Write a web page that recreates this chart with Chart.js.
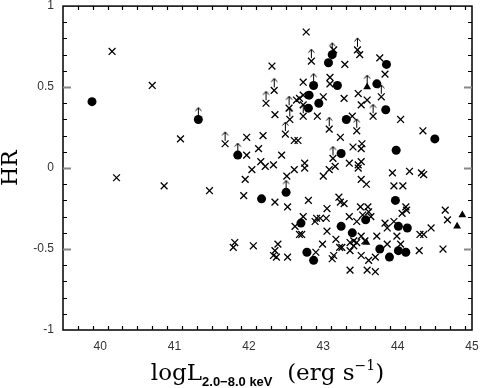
<!DOCTYPE html>
<html>
<head>
<meta charset="utf-8">
<script src="https://cdn.jsdelivr.net/npm/chart.js@4.4.1/dist/chart.umd.min.js"></script>
<style>
  html, body { margin: 0; padding: 0; background: #fff; }
  #grafica { display: block; }
</style>
</head>
<body>
<canvas id="grafica" width="480" height="388"></canvas>
<script>
// log L(2-8 keV) vs HR
var crossL = [40.16, 40.70, 41.08, 40.22, 40.86, 41.47, 42.77, 42.31, 43.14, 43.29, 43.49, 43.76, 43.83, 42.73, 43.09, 43.09, 43.00, 43.28, 43.47, 43.59,
  43.51, 42.64, 42.68, 42.73, 42.73, 42.35, 42.92, 43.39, 44.04, 44.34, 43.23, 42.61, 42.66, 43.52, 43.40, 41.97, 42.19, 42.13, 41.97, 42.44,
  42.16, 42.22, 42.33, 42.04, 41.95, 42.51, 42.61, 42.75, 42.75, 43.00, 43.08, 43.16, 43.35, 43.47, 43.51, 43.47, 43.51, 43.51, 43.58, 43.93,
  44.16, 44.35, 44.32, 43.95, 44.07, 41.93, 42.35, 42.52, 42.80, 43.21, 43.23, 43.28, 43.05, 43.50, 43.60, 43.61, 44.11, 44.12, 44.06, 44.64,
  44.67, 42.73, 42.62, 42.91, 42.96, 43.04, 42.89, 43.05, 42.68, 42.71, 43.45, 43.35, 43.53, 43.64, 43.83, 43.86, 43.95, 44.45, 44.30, 44.35,
  43.99, 43.17, 43.36, 43.41, 43.45, 43.41, 43.51, 43.56, 43.72, 43.22, 43.25, 42.99, 42.90, 43.14, 43.12, 43.36, 43.51, 43.61, 43.70, 43.86,
  44.04, 44.29, 44.61, 43.36, 43.59, 43.70, 42.39, 42.06, 42.35, 42.33, 42.37, 42.52, 41.81, 41.79];
var crossHR = [0.72, 0.51, 0.18, -0.06, -0.11, -0.14, 0.84, 0.63, 0.73, 0.64, 0.70, 0.68, 0.58, 0.53, 0.56, 0.52, 0.44, 0.43, 0.46, 0.42,
  0.39, 0.42, 0.43, 0.45, 0.39, 0.33, 0.32, 0.32, 0.30, 0.23, 0.19, 0.17, 0.17, 0.15, 0.13, 0.19, 0.20, 0.12, 0.08, 0.08,
  0.04, 0.01, 0.02, -0.01, -0.07, -0.05, -0.01, 0.03, 0.00, -0.05, -0.01, 0.01, 0.03, 0.02, 0.04, 0.00, 0.12, -0.07, -0.10, -0.03,
  -0.02, -0.04, -0.03, -0.11, -0.11, -0.17, -0.21, -0.24, -0.20, -0.18, -0.21, -0.22, -0.25, -0.24, -0.24, -0.27, -0.24, -0.26, -0.28, -0.26,
  -0.32, -0.30, -0.36, -0.31, -0.31, -0.31, -0.33, -0.39, -0.41, -0.41, -0.33, -0.30, -0.29, -0.30, -0.34, -0.37, -0.33, -0.37, -0.41, -0.41,
  -0.42, -0.44, -0.46, -0.45, -0.46, -0.48, -0.42, -0.45, -0.42, -0.49, -0.49, -0.47, -0.52, -0.54, -0.56, -0.51, -0.54, -0.57, -0.55, -0.47,
  -0.47, -0.51, -0.50, -0.63, -0.63, -0.64, -0.47, -0.48, -0.51, -0.54, -0.55, -0.55, -0.46, -0.49];

// crosses that are lower limits (arrow)
var crossLimL = [41.68, 42.84, 43.46, 42.34, 42.23, 43.78, 43.67, 42.54, 42.55, 42.73, 43.45, 43.08, 42.49, 43.13];
var crossLimHR = [0.15, 0.66, 0.73, 0.48, 0.40, 0.44, 0.32, 0.37, 0.30, 0.32, 0.23, 0.24, 0.21, 0.06];

var dotL = [39.89, 43.07, 43.85, 43.19, 43.72, 42.81, 42.94, 42.80, 43.84, 43.31, 43.24, 43.98, 44.50, 42.17, 43.97, 42.70, 43.24, 43.57,
  44.01, 44.13, 43.39, 42.78, 42.87, 43.76, 43.89, 44.01, 44.11];
var dotHR = [0.41, 0.65, 0.64, 0.51, 0.52, 0.45, 0.40, 0.37, 0.36, 0.30, 0.09, 0.11, 0.18, -0.19, -0.20, -0.34, -0.36, -0.32,
  -0.36, -0.37, -0.40, -0.52, -0.57, -0.50, -0.55, -0.51, -0.52];

var dotLimL = [41.32, 41.85, 42.50, 43.12, 42.87];
var dotLimHR = [0.30, 0.08, -0.15, 0.70, 0.51];

var triL = [44.87, 44.80, 43.58, 43.59];
var triHR = [-0.29, -0.36, -0.46, 0.50];
var triLimL = [43.59];
var triLimHR = [0.50];

var xTicks = [40, 41, 42, 43, 44, 45];
var yTicks = [-1, -0.5, 0, 0.5, 1];

function puntos(xs, ys) {
  var out = [];
  for (var i = 0; i < xs.length; i++) out.push({ x: xs[i], y: ys[i] });
  return out;
}

// small upward arrow used to mark lower limits
function flecha() {
  var c = document.createElement('canvas');
  c.width = 9;
  c.height = 30;
  var g = c.getContext('2d');
  g.strokeStyle = '#000';
  g.lineWidth = 1;
  g.beginPath();
  g.moveTo(4.5, 12);
  g.lineTo(4.5, 3);
  g.moveTo(1.5, 6.5);
  g.lineTo(4.5, 3);
  g.lineTo(7.5, 6.5);
  g.stroke();
  return c;
}

const serif = "'DejaVu Serif', 'Liberation Serif', serif";
const sans = "'Liberation Sans', Arial, sans-serif";

// frame, inward ticks on all four sides and the axis titles
const marco = {
  id: 'marco',
  afterDatasetsDraw(chart) {
    const ctx = chart.ctx;
    const a = chart.chartArea;
    const xs = chart.scales.x;
    const ys = chart.scales.y;
    ctx.save();
    ctx.strokeStyle = '#000';
    ctx.lineWidth = 1.5;
    ctx.strokeRect(a.left, a.top, a.right - a.left, a.bottom - a.top);

    ctx.lineWidth = 1.2;
    for (var i = 1; i < 28; i++) {
      var v = 39.5 + i * 0.2;
      var px = Math.round(xs.getPixelForValue(v)) + 0.5;
      var mayor = Math.abs(v - Math.round(v)) < 0.01;
      var len = mayor ? 8 : 4;
      ctx.strokeStyle = '#000';
      ctx.beginPath();
      ctx.moveTo(px, a.bottom); ctx.lineTo(px, a.bottom - len);
      ctx.moveTo(px, a.top); ctx.lineTo(px, a.top + len);
      ctx.stroke();
    }
    for (var j = -9; j <= 9; j++) {
      var w = j / 10;
      var py = Math.round(ys.getPixelForValue(w)) + 0.5;
      var may = j % 5 === 0;
      var l2 = may ? 8 : 4;
      ctx.strokeStyle = may ? '#888' : '#000';
      ctx.lineWidth = may ? 2 : 1.2;
      ctx.beginPath();
      ctx.moveTo(a.left, py); ctx.lineTo(a.left + l2, py);
      ctx.moveTo(a.right, py); ctx.lineTo(a.right - l2, py);
      ctx.stroke();
    }

    // y title
    ctx.fillStyle = '#000';
    ctx.font = '22px ' + serif;
    ctx.textAlign = 'center';
    ctx.textBaseline = 'alphabetic';
    ctx.save();
    ctx.translate(17, (a.top + a.bottom) / 2);
    ctx.rotate(-Math.PI / 2);
    ctx.fillText('HR', 0, 0);
    ctx.restore();

    // x title with subscript and superscript
    var partes = [
      { t: 'logL', f: '23px ' + serif, dy: 0 },
      { t: '2.0\u22128.0 keV', f: 'bold 13px ' + sans, dy: 6 },
      { t: '  ', f: '23px ' + serif, dy: 0 },
      { t: '(erg s', f: '23px ' + serif, dy: 0 },
      { t: '\u22121', f: '14px ' + serif, dy: -10 },
      { t: ')', f: '23px ' + serif, dy: 0 }
    ];
    var total = 0;
    partes.forEach(function (p) { ctx.font = p.f; p.w = ctx.measureText(p.t).width; total += p.w; });
    var x0 = (a.left + a.right) / 2 - total / 2;
    ctx.textAlign = 'left';
    partes.forEach(function (p) {
      ctx.font = p.f;
      ctx.fillText(p.t, x0, 380 + p.dy);
      x0 += p.w;
    });
    ctx.restore();
  }
};

var imgFlecha = flecha();

const config = {
  type: 'scatter',
  data: {
    datasets: [
      {
        label: 'cruces',
        data: puntos(crossL.concat(crossLimL), crossHR.concat(crossLimHR)),
        pointStyle: 'crossRot',
        radius: 4.8,
        borderColor: '#000',
        borderWidth: 1.3
      },
      {
        label: 'puntos',
        data: puntos(dotL.concat(dotLimL), dotHR.concat(dotLimHR)),
        pointStyle: 'circle',
        radius: 4.5,
        backgroundColor: '#000',
        borderColor: '#000',
        borderWidth: 0
      },
      {
        label: 'triangulos',
        data: puntos(triL, triHR),
        pointStyle: 'triangle',
        radius: 4.5,
        backgroundColor: '#000',
        borderColor: '#000',
        borderWidth: 0
      },
      {
        label: 'limites',
        data: puntos(crossLimL.concat(dotLimL, triLimL), crossLimHR.concat(dotLimHR, triLimHR)),
        pointStyle: imgFlecha,
        radius: 5
      }
    ]
  },
  plugins: [marco],
  options: {
    responsive: false,
    animation: false,
    devicePixelRatio: 1,
    layout: { padding: { top: 4, right: 8, left: 0, bottom: 0 } },
    plugins: {
      legend: { display: false },
      tooltip: { enabled: false }
    },
    scales: {
      x: {
        type: 'linear',
        min: 39.5,
        max: 45,
        grid: { display: false, drawTicks: false },
        border: { display: false },
        afterBuildTicks: function (s) { s.ticks = xTicks.map(function (v) { return { value: v }; }); },
        afterFit: function (s) { s.height = 58; s.paddingLeft = 0; s.paddingRight = 0; },
        ticks: {
          padding: 9,
          color: '#333',
          font: { family: sans, size: 12 },
          callback: function (v) { return String(v); }
        }
      },
      y: {
        min: -1,
        max: 1,
        grid: { display: false, drawTicks: false },
        border: { display: false },
        afterBuildTicks: function (s) { s.ticks = yTicks.map(function (v) { return { value: v }; }); },
        afterFit: function (s) { s.width = 63; s.paddingTop = 0; s.paddingBottom = 0; },
        ticks: {
          padding: 9,
          color: '#333',
          font: { family: sans, size: 12 },
          callback: function (v) { return String(v); }
        }
      }
    }
  }
};

var grafica = new Chart(document.getElementById('grafica'), config);
</script>
</body>
</html>
